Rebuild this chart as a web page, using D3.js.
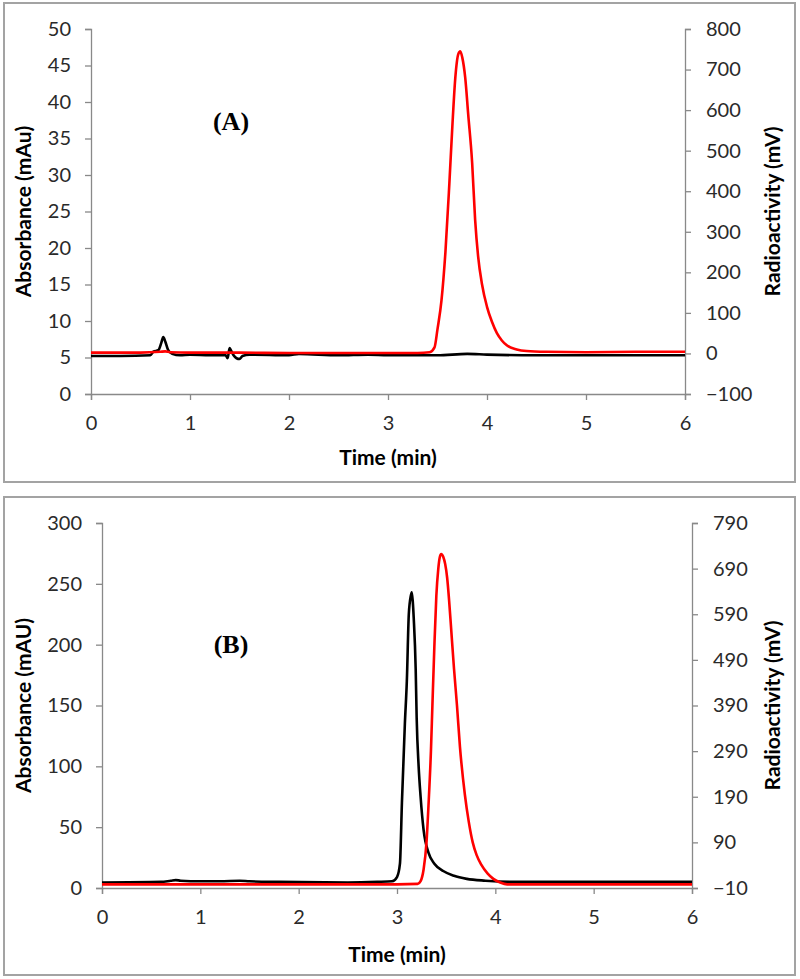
<!DOCTYPE html>
<html><head><meta charset="utf-8">
<script src="https://cdn.jsdelivr.net/npm/d3@7"></script>
<style>
html,body{margin:0;padding:0;background:#fff;}
svg{display:block;}
</style>
</head><body>
<svg id="chart" width="800" height="979"></svg>
<script>
// ---------- DATA ----------
const timeTicks = [0, 1, 2, 3, 4, 5, 6];
const absTicksA = [0, 5, 10, 15, 20, 25, 30, 35, 40, 45, 50];
const radTicksA = [-100, 0, 100, 200, 300, 400, 500, 600, 700, 800];
const absTicksB = [0, 50, 100, 150, 200, 250, 300];
const radTicksB = [-10, 90, 190, 290, 390, 490, 590, 690, 790];

// Panel A – absorbance (mAu), [time, value]
const absorbanceA = [
  [0,5.2],[0.3,5.2],[0.6,5.3],[0.63,5.8],[0.68,6.0],[0.71,7.0],[0.73,7.8],[0.75,7.2],[0.78,6.0],
  [0.82,5.5],[0.9,5.3],[1.0,5.4],[1.2,5.3],[1.36,5.3],[1.38,4.9],[1.40,6.3],[1.42,5.8],[1.44,5.3],
  [1.47,4.9],[1.5,4.8],[1.53,5.2],[1.6,5.4],[2.0,5.3],[2.1,5.5],[2.5,5.3],[2.8,5.4],[3.0,5.3],
  [3.5,5.3],[3.8,5.5],[4.0,5.4],[4.5,5.3],[5.0,5.3],[5.5,5.3],[6.0,5.3]
];
// Panel A – radioactivity (mV)
const radioactivityA = [
  [0,2],[0.5,2],[0.7,4],[0.75,5],[0.8,3],[1.0,2],[1.5,2],[2.0,1],[2.5,1],[3.0,1],[3.3,1],
  [3.42,3],[3.47,15],[3.5,60],[3.54,130],[3.58,250],[3.62,420],[3.65,560],[3.68,680],[3.71,738],
  [3.73,745],[3.75,730],[3.78,680],[3.81,590],[3.85,470],[3.88,330],[3.91,240],[3.95,170],
  [4.0,115],[4.05,78],[4.1,50],[4.15,32],[4.2,20],[4.3,10],[4.4,6],[4.6,4],[5.0,3],[5.5,4],[6.0,4]
];
// Panel B – absorbance (mAU)
const absorbanceB = [
  [0,4.5],[0.6,5],[0.7,6],[0.75,6.5],[0.8,6],[1.0,5.5],[1.2,5.5],[1.4,6],[1.5,5.5],[1.8,5],
  [2.5,4.5],[2.8,5],[2.95,5.5],[3.0,9],[3.03,20],[3.05,70],[3.08,135],[3.10,170],[3.12,225],
  [3.14,240],[3.15,243],[3.16,236],[3.17,222],[3.19,180],[3.20,140],[3.22,100],[3.24,75],
  [3.27,48],[3.32,29],[3.38,20],[3.47,14],[3.58,10],[3.71,7.5],[3.9,6],[4.2,5],[5.0,5],[6.0,5]
];
// Panel B – radioactivity (mV)
const radioactivityB = [
  [0,-2],[0.5,-2],[1.0,-2],[2.0,-2],[3.0,-2],[3.21,-1],[3.24,5],[3.27,30],[3.30,90],[3.32,170],
  [3.345,290],[3.36,390],[3.38,520],[3.40,630],[3.42,690],[3.435,715],[3.45,722],[3.47,716],
  [3.49,700],[3.51,670],[3.53,620],[3.55,560],[3.58,470],[3.61,390],[3.64,300],[3.69,195],
  [3.73,135],[3.77,90],[3.81,62],[3.86,40],[3.92,22],[3.98,10],[4.05,2],[4.12,-2],[4.3,-2],
  [5.0,-2],[6.0,-2]
];

// ---------- DRAW ----------
const svg = d3.select("#chart");
const GRAY = "#898989";
const FONT = "Lato, 'Open Sans', sans-serif";

function drawPanel(cfg) {
  const g = svg.append("g");
  g.append("rect").attr("x", cfg.box[0]).attr("y", cfg.box[1])
    .attr("width", cfg.box[2]).attr("height", cfg.box[3])
    .attr("fill", "#fff").attr("stroke", "#a3a3a3").attr("stroke-width", 2);

  const x = d3.scaleLinear().domain([0, 6]).range([cfg.left, cfg.right]);
  const yL = d3.scaleLinear().domain(cfg.absDomain).range([cfg.bottom, cfg.top]);
  const yR = d3.scaleLinear().domain(cfg.radDomain).range([cfg.bottom, cfg.top]);

  const styleAxis = sel => {
    sel.selectAll("path,line").attr("stroke", GRAY).attr("stroke-width", 1.3);
    sel.selectAll("text").attr("font-family", FONT)
      .attr("font-size", 20).attr("fill", "#2a2a2a");
  };

  g.append("g").attr("transform", `translate(0,${cfg.bottom})`)
    .call(d3.axisBottom(x).tickValues(timeTicks).tickFormat(d3.format("d")).tickSizeOuter(0).tickSize(6).tickPadding(16))
    .call(styleAxis);
  g.append("g").attr("transform", `translate(${cfg.left},0)`)
    .call(d3.axisLeft(yL).tickValues(cfg.absTicks).tickFormat(d3.format("d")).tickSizeOuter(0).tickSize(6).tickPadding(14))
    .call(styleAxis);
  g.append("g").attr("transform", `translate(${cfg.right},0)`)
    .call(d3.axisRight(yR).tickValues(cfg.radTicks).tickFormat(d3.format("d")).tickSizeOuter(0).tickSize(6).tickPadding(15))
    .call(styleAxis);

  const lineL = d3.line().x(d => x(d[0])).y(d => yL(d[1])).curve(d3.curveMonotoneX);
  const lineR = d3.line().x(d => x(d[0])).y(d => yR(d[1])).curve(d3.curveMonotoneX);

  g.append("path").datum(cfg.abs).attr("d", lineL)
    .attr("fill", "none").attr("stroke", "#000").attr("stroke-width", 2.6).attr("stroke-linejoin", "round");
  g.append("path").datum(cfg.rad).attr("d", lineR)
    .attr("fill", "none").attr("stroke", "#ff0000").attr("stroke-width", 2.6).attr("stroke-linejoin", "round");

  const midY = (cfg.top + cfg.bottom) / 2;
  g.append("text").attr("x", (cfg.left + cfg.right) / 2).attr("y", cfg.xTitleY)
    .attr("text-anchor", "middle").attr("font-family", FONT).attr("font-weight", "bold")
    .attr("font-size", 21).attr("fill", "#000").text("Time (min)");
  g.append("text").attr("transform", `translate(${cfg.lTitleX},${midY}) rotate(-90)`)
    .attr("text-anchor", "middle").attr("font-family", FONT).attr("font-weight", "bold")
    .attr("font-size", 21).attr("fill", "#000").text(cfg.absTitle);
  g.append("text").attr("transform", `translate(${cfg.rTitleX},${midY}) rotate(-90)`)
    .attr("text-anchor", "middle").attr("font-family", FONT).attr("font-weight", "bold")
    .attr("font-size", 21).attr("fill", "#000").text("Radioactivity (mV)");

  g.append("text").attr("x", cfg.tag[0]).attr("y", cfg.tag[1])
    .attr("text-anchor", "middle").attr("font-family", "'Liberation Serif', 'DejaVu Serif', serif")
    .attr("font-weight", "bold").attr("font-size", 26).attr("fill", "#000").text(cfg.tagText);
}

drawPanel({
  box: [4, 3, 791, 479], left: 91, right: 685, top: 29, bottom: 394,
  absDomain: [0, 50], radDomain: [-100, 800], absTicks: absTicksA, radTicks: radTicksA,
  abs: absorbanceA, rad: radioactivityA, absTitle: "Absorbance (mAu)",
  xTitleY: 465, lTitleX: 31, rTitleX: 780, tag: [231, 130], tagText: "(A)"
});
drawPanel({
  box: [4, 497, 791, 478], left: 102, right: 692, top: 523, bottom: 888,
  absDomain: [0, 300], radDomain: [-10, 790], absTicks: absTicksB, radTicks: radTicksB,
  abs: absorbanceB, rad: radioactivityB, absTitle: "Absorbance (mAU)",
  xTitleY: 962, lTitleX: 31, rTitleX: 780, tag: [231, 653], tagText: "(B)"
});
</script>
</body></html>
